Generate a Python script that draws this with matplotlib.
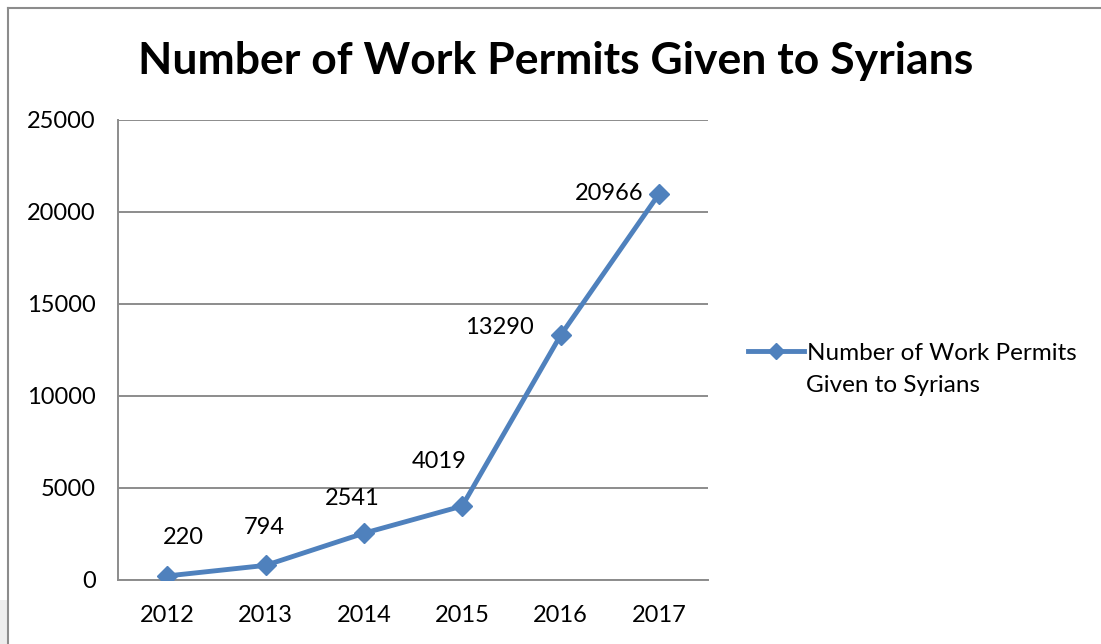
import matplotlib.pyplot as plt
from matplotlib.lines import Line2D
from matplotlib.patches import Rectangle

# Work permits issued to Syrians per year
years = ['2012', '2013', '2014', '2015', '2016', '2017']
permits = [220, 794, 2541, 4019, 13290, 20966]
series_name = 'Number of Work Permits'
series_name_cont = 'Given to Syrians'
title = 'Number of Work Permits Given to Syrians'
y_ticks = [0, 5000, 10000, 15000, 20000, 25000]

# label offsets (pixels) relative to each point
label_offsets = [(16, 38), (-1, 38), (-12, 35), (-23, 45), (-61, 8), (-50, 1)]

LINE_COLOR = '#4F81BD'
GRID_COLOR = '#8C8C8C'
FONT = 'Lato'

plt.rcParams['font.family'] = [FONT, 'DejaVu Sans']

fig = plt.figure(figsize=(11.01, 6.44), dpi=100)
ax = fig.add_axes([118 / 1101, 1 - 580 / 644, 590 / 1101, 460 / 644])

x = list(range(len(years)))
ax.plot(x, permits, color=LINE_COLOR, linewidth=3.5, marker='D',
        markersize=10, markerfacecolor=LINE_COLOR, markeredgecolor=LINE_COLOR,
        label=series_name, zorder=3)

for xi, val, (dx, dy) in zip(x, permits, label_offsets):
    ax.annotate(str(val), (xi, val), xytext=(dx, dy), textcoords='offset pixels',
                ha='center', va='center', fontsize=17, color='black')

ax.set_xlim(-0.5, len(years) - 0.5)
ax.set_ylim(0, 25000)
ax.set_xticks(x)
ax.set_xticklabels(years)
ax.set_yticks(y_ticks)
ax.set_yticklabels([str(t) for t in y_ticks])
ax.tick_params(axis='both', length=0, labelsize=17, colors='black')
ax.tick_params(axis='y', pad=16)
ax.tick_params(axis='x', pad=18)
ax.yaxis.grid(True, color=GRID_COLOR, linewidth=1.4)
ax.set_axisbelow(True)

for side in ('top', 'right'):
    ax.spines[side].set_visible(False)
for side in ('left', 'bottom'):
    ax.spines[side].set_color(GRID_COLOR)
    ax.spines[side].set_linewidth(1.4)

fig.text(556 / 1101, 1 - 61 / 644, title, ha='center', va='center',
         fontsize=32, fontweight='bold', color='black')

leg = ax.legend(loc='center left', bbox_to_anchor=(748 / 1101, 1 - 353 / 644),
                bbox_transform=fig.transFigure, frameon=False, fontsize=17.5,
                handlelength=2.3, handletextpad=0.12, borderpad=0,
                borderaxespad=0, markerscale=0.85)
# second line of the legend entry
fig.text(806 / 1101, 1 - 385 / 644, series_name_cont, ha='left', va='center',
         fontsize=17.5, color='black')

# outer chart frame
fig.add_artist(Line2D([8 / 1101, 8 / 1101], [0, 1 - 8 / 644],
                      transform=fig.transFigure, color='#8C8C8C', linewidth=1.5))
fig.add_artist(Line2D([8 / 1101, 1], [1 - 8 / 644, 1 - 8 / 644],
                      transform=fig.transFigure, color='#8C8C8C', linewidth=1.5))
fig.add_artist(Rectangle((0, 0), 7 / 1101, 44 / 644, transform=fig.transFigure,
                         facecolor='#EDEDED', edgecolor='none'))

fig.savefig('out.png', dpi=100, facecolor='white')
